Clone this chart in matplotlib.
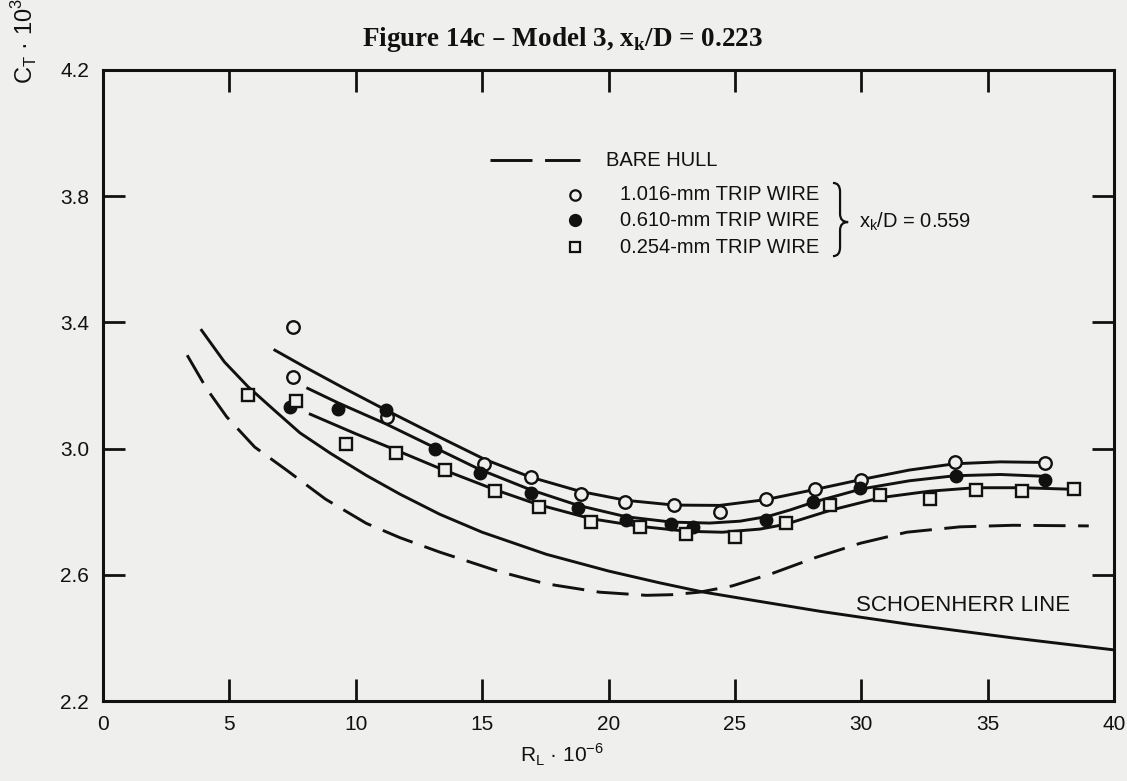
import matplotlib.pyplot as plt
from matplotlib.path import Path
from matplotlib.patches import PathPatch

# Measured points (C_T x 10^3 vs R_L x 10^-6)
circ_x = [7.5, 7.5, 11.24, 15.06, 16.92, 18.90, 20.67, 22.61, 24.43, 26.25, 28.18, 29.98, 33.72, 37.28]
circ_y = [3.385, 3.228, 3.099, 2.951, 2.909, 2.856, 2.831, 2.820, 2.800, 2.839, 2.871, 2.902, 2.958, 2.953]

dot_x = [7.39, 9.30, 11.19, 13.12, 14.90, 16.92, 18.79, 20.69, 22.47, 23.33, 26.25, 28.10, 29.96, 33.74, 37.28]
dot_y = [3.133, 3.127, 3.122, 2.998, 2.923, 2.860, 2.812, 2.773, 2.761, 2.752, 2.773, 2.832, 2.874, 2.913, 2.902]

sq_x = [5.74, 7.63, 9.60, 11.58, 13.52, 15.49, 17.24, 19.30, 21.23, 23.06, 25.00, 27.04, 28.77, 30.75, 32.71, 34.53, 36.37, 38.42]
sq_y = [3.170, 3.151, 3.016, 2.985, 2.932, 2.866, 2.814, 2.768, 2.752, 2.728, 2.719, 2.763, 2.821, 2.853, 2.839, 2.869, 2.866, 2.871]

# Faired curves through each set
circ_fit_x = [6.8, 8.0, 9.5, 11.2, 13.3, 15.1, 16.9, 18.9, 20.7, 22.6, 24.4, 26.2, 28.2, 30.0, 31.9, 33.7, 35.5, 37.3]
circ_fit_y = [3.312, 3.258, 3.193, 3.122, 3.037, 2.966, 2.910, 2.864, 2.836, 2.821, 2.820, 2.838, 2.871, 2.902, 2.932, 2.952, 2.958, 2.956]

dot_fit_x = [8.1, 9.3, 11.2, 13.1, 14.9, 16.9, 18.8, 20.7, 22.5, 24.0, 25.2, 26.3, 27.2, 28.1, 30.0, 31.9, 33.7, 35.5, 37.3]
dot_fit_y = [3.191, 3.145, 3.078, 3.004, 2.934, 2.870, 2.820, 2.784, 2.767, 2.764, 2.770, 2.785, 2.806, 2.830, 2.872, 2.898, 2.914, 2.918, 2.912]

sq_fit_x = [8.2, 10.0, 11.6, 13.3, 15.5, 17.2, 19.3, 21.2, 23.1, 24.5, 26.0, 27.0, 28.8, 30.8, 32.7, 34.5, 36.4, 38.4]
sq_fit_y = [3.109, 3.047, 2.995, 2.938, 2.870, 2.823, 2.778, 2.754, 2.738, 2.735, 2.745, 2.760, 2.805, 2.845, 2.865, 2.876, 2.876, 2.871]

bare_x = [3.33, 4.1, 4.89, 6.0, 7.26, 8.8, 10.42, 11.74, 13.32, 15.69, 17.5, 19.64, 21.5, 22.5, 23.6, 24.9, 26.5, 28.2, 29.96, 31.8, 33.9, 36.0, 39.0]
bare_y = [3.296, 3.190, 3.101, 3.005, 2.932, 2.840, 2.763, 2.718, 2.672, 2.610, 2.572, 2.545, 2.535, 2.537, 2.545, 2.565, 2.605, 2.655, 2.700, 2.735, 2.752, 2.757, 2.755]

schoen_x = [3.9, 4.8, 5.74, 6.8, 7.79, 9.0, 10.42, 11.74, 13.32, 15.0, 17.54, 20.0, 22.0, 23.7, 25.5, 28.4, 32.0, 36.0, 40.0]
schoen_y = [3.375, 3.275, 3.196, 3.120, 3.050, 2.985, 2.915, 2.856, 2.792, 2.735, 2.665, 2.612, 2.575, 2.546, 2.522, 2.484, 2.442, 2.400, 2.362]

xticks = [0, 5, 10, 15, 20, 25, 30, 35, 40]
yticks = [2.2, 2.6, 3.0, 3.4, 3.8, 4.2]

bg = '#efefed'
ink = '#111111'
sans = ['Liberation Sans', 'DejaVu Sans']

plt.rcParams['font.family'] = sans
fig = plt.figure(figsize=(11.27, 7.81), dpi=100, facecolor=bg)
ax = fig.add_axes([0.0914, 0.1024, 0.8971, 0.808])
ax.set_facecolor(bg)

lw = 2.1
dash = (0, (11, 4.3))
ax.plot(schoen_x, schoen_y, color=ink, lw=lw)
ax.plot(bare_x, bare_y, color=ink, lw=lw, linestyle=dash)
ax.plot(circ_fit_x, circ_fit_y, color=ink, lw=lw)
ax.plot(dot_fit_x, dot_fit_y, color=ink, lw=lw)
ax.plot(sq_fit_x, sq_fit_y, color=ink, lw=lw)

ax.plot(circ_x, circ_y, 'o', ms=9, mfc=bg, mec=ink, mew=1.7, zorder=5)
ax.plot(dot_x, dot_y, 'o', ms=9, mfc=ink, mec=ink, zorder=5)
ax.plot(sq_x, sq_y, 's', ms=8, mfc=bg, mec=ink, mew=1.7, zorder=5)

ax.set_xlim(0, 40)
ax.set_ylim(2.2, 4.2)
ax.set_xticks(xticks)
ax.set_yticks(yticks)
ax.set_xticklabels([str(v) for v in xticks])
ax.set_yticklabels([f'{v:.1f}' for v in yticks])
ax.tick_params(direction='in', length=16, width=2, top=True, right=True,
               labelsize=15, colors=ink, pad=10)
for s in ax.spines.values():
    s.set_linewidth(2.2)
    s.set_color(ink)

ax.text(29.8, 2.504, 'SCHOENHERR LINE', fontsize=16, color=ink, va='center', ha='left')

# legend block
tr = ax.transAxes
ax.plot([0.383, 0.472], [0.857, 0.857], color=ink, lw=lw,
        linestyle=(0, (14.4, 4.3)), transform=tr)
ax.text(0.4975, 0.857, 'BARE HULL', fontsize=14.5, color=ink, va='center', transform=tr)
rows = [0.802, 0.762, 0.719]
labels = ['1.016-mm TRIP WIRE', '0.610-mm TRIP WIRE', '0.254-mm TRIP WIRE']
styles = [dict(marker='o', ms=7.5, mfc=bg, mec=ink, mew=1.6),
          dict(marker='o', ms=8.5, mfc=ink, mec=ink),
          dict(marker='s', ms=7, mfc=bg, mec=ink, mew=1.6)]
for yy, lab, st in zip(rows, labels, styles):
    ax.plot([0.467], [yy], linestyle='none', transform=tr, clip_on=False, **st)
    ax.text(0.511, yy, lab, fontsize=14.5, color=ink, va='center', transform=tr)

# right brace grouping the three trip-wire rows
bx = 0.006
verts = [(0.716 + bx, 0.821), (0.723 + bx, 0.821), (0.723 + bx, 0.807),
         (0.723 + bx, 0.772),
         (0.723 + bx, 0.759), (0.731 + bx, 0.759),
         (0.723 + bx, 0.759), (0.723 + bx, 0.746),
         (0.723 + bx, 0.719),
         (0.723 + bx, 0.705), (0.716 + bx, 0.705)]
codes = [Path.MOVETO, Path.CURVE3, Path.CURVE3,
         Path.LINETO,
         Path.CURVE3, Path.CURVE3,
         Path.CURVE3, Path.CURVE3,
         Path.LINETO,
         Path.CURVE3, Path.CURVE3]
ax.add_patch(PathPatch(Path(verts, codes), transform=tr, fill=False, lw=1.6, ec=ink))
ax.text(0.748, 0.759, r'x$_\mathregular{k}$/D = 0.559', fontsize=14.5, color=ink,
        va='center', transform=tr)

fig.text(0.4987, 0.949, r'Figure 14c – Model 3, x$_\mathregular{k}$/D = 0.223',
         fontsize=19.5, fontweight='bold', family=['Liberation Serif', 'DejaVu Serif'],
         ha='center', va='center', color=ink)
fig.text(0.022, 0.8924, r'C$_\mathregular{T}$ · 10$^\mathregular{3}$', fontsize=17,
         rotation=90, ha='center', va='bottom', color=ink)
fig.text(0.4987, 0.033, r'R$_\mathregular{L}$ · 10$^\mathregular{-6}$', fontsize=15,
         ha='center', va='center', color=ink)

fig.savefig('out.png', dpi=100, facecolor=bg)
